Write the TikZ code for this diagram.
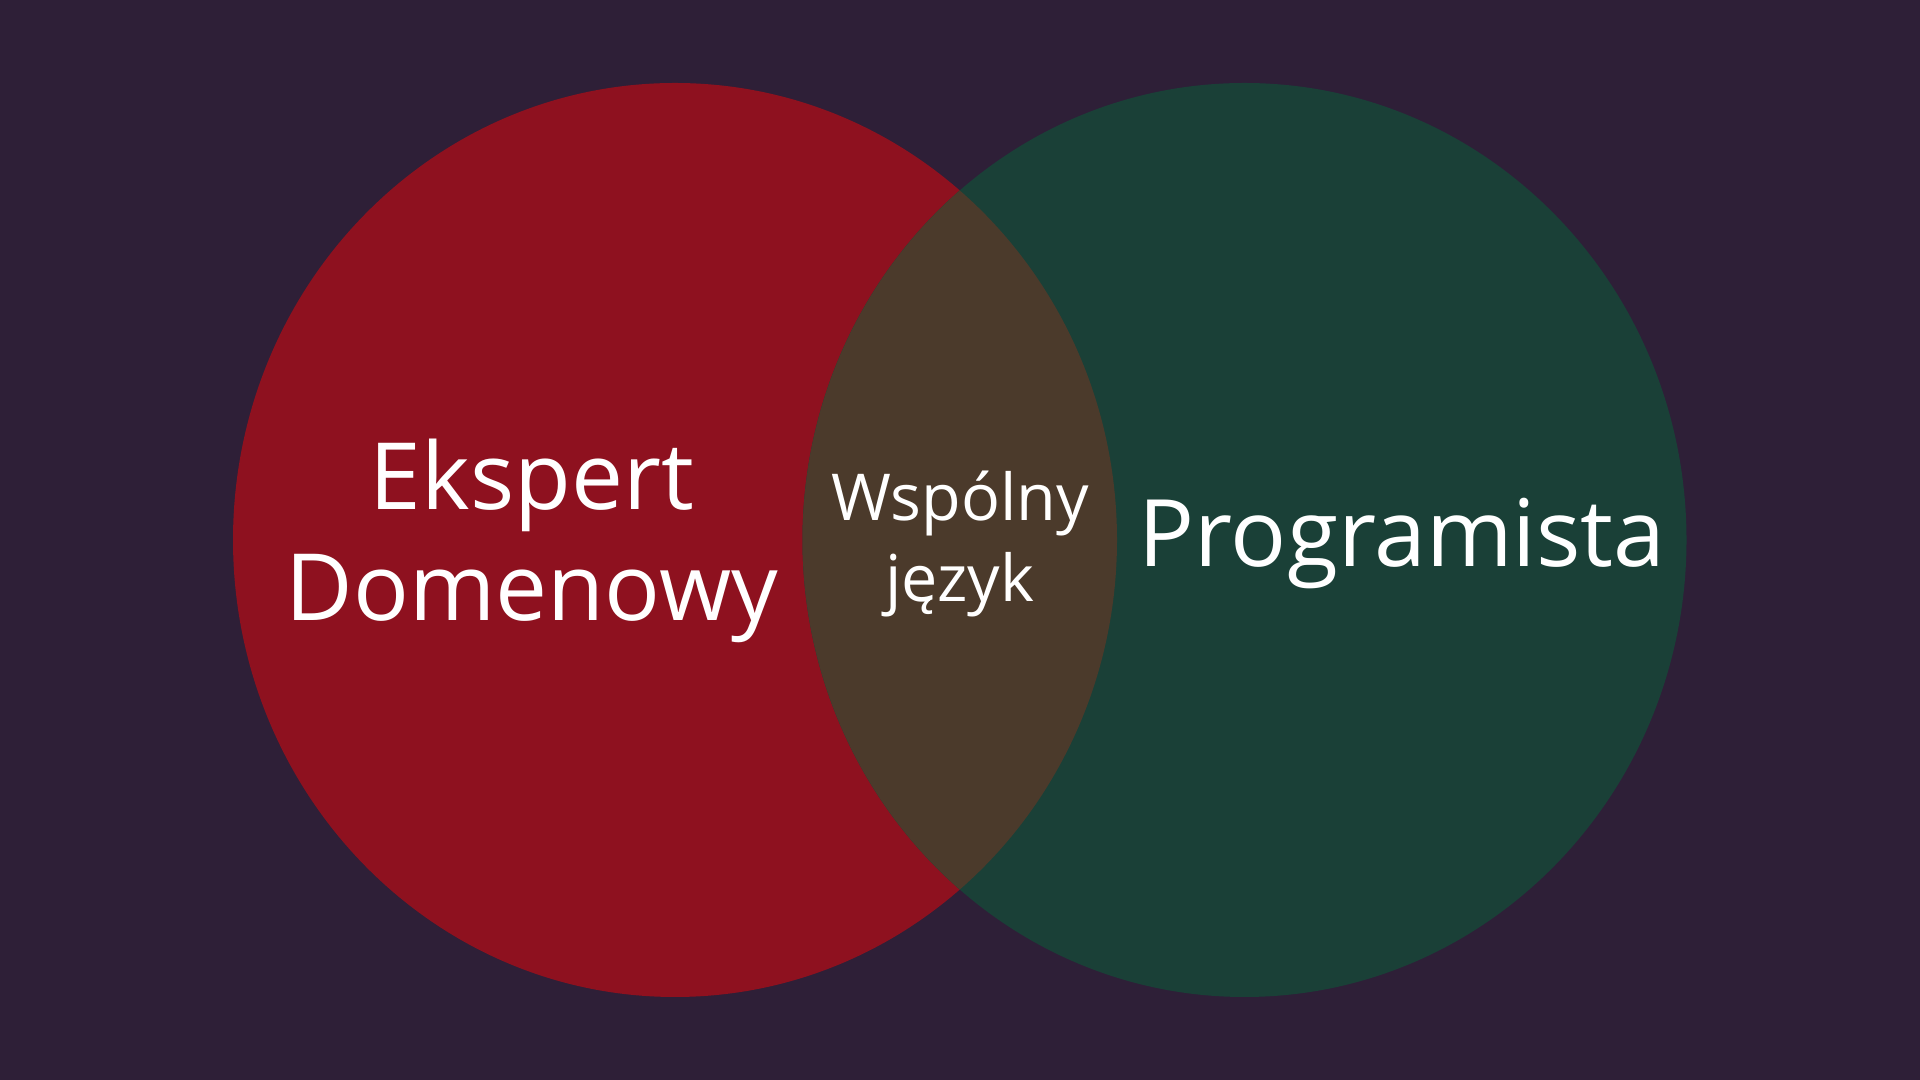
\documentclass[tikz,border=0pt]{standalone}
\usepackage{fontspec}
\setmainfont{Open Sans}
\usepackage{tikz}
\usetikzlibrary{positioning}
\definecolor{bgpurple}{HTML}{2E1F37}
\definecolor{venred}{HTML}{8E111F}
\definecolor{vengreen}{HTML}{1A4037}
\definecolor{venbrown}{HTML}{4B3A2B}

\begin{document}
\begin{tikzpicture}
% Background
\fill[bgpurple] (0,0) rectangle (19.2,10.8);
\useasboundingbox (0,0) rectangle (19.2,10.8);

% Sets
\fill[venred] (6.75,5.40) ellipse [x radius=4.42, y radius=4.57];
\fill[vengreen] (12.445,5.40) ellipse [x radius=4.42, y radius=4.57];

% Overlap
\begin{scope}
  \clip (6.75,5.40) ellipse [x radius=4.42, y radius=4.57];
  \fill[venbrown] (12.445,5.40) ellipse [x radius=4.42, y radius=4.57];
\end{scope}

% Labels
\node[white, align=center, font=\fontsize{26.4}{31.6}\selectfont] (expert) at (5.32,5.39) {Ekspert\\Domenowy};
\node[white, font=\fontsize{26.5}{32}\selectfont] (programmer) at (14.02,5.36) {Programista};
\node[white, align=center, font=\fontsize{18.4}{22.8}\selectfont] (common) at (9.60,5.36) {Wspólny\\język};

\end{tikzpicture}
\end{document}
